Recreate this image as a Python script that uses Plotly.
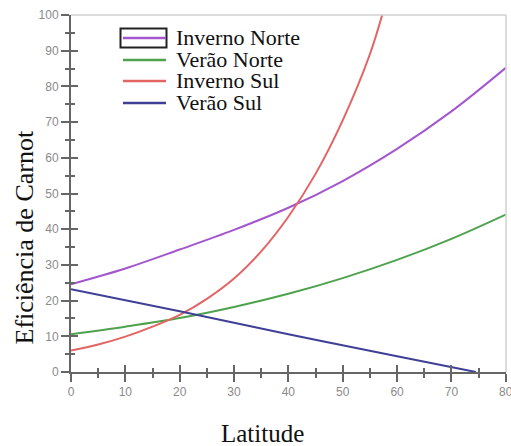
import plotly.graph_objects as go

# Latitude samples and efficiency values per series
lat_inv_norte = [0, 10, 20, 30, 40, 50, 60, 70, 80]
inv_norte = [24.6, 29.0, 34.3, 39.8, 46.0, 53.5, 62.5, 73.0, 85.2]

lat_ver_norte = [0, 10, 20, 30, 40, 50, 60, 70, 80]
ver_norte = [10.6, 12.7, 15.1, 18.2, 21.9, 26.3, 31.4, 37.3, 44.1]

lat_inv_sul = [0, 5, 10, 15, 20, 25, 30, 35, 40, 45, 50, 55, 58]
inv_sul = [6.0, 7.7, 9.9, 12.7, 16.0, 20.5, 26.2, 33.8, 43.5, 55.5, 70.5, 89.0, 104.0]

lat_ver_sul = [0, 20, 40, 60, 74.5]
ver_sul = [23.2, 17.0, 10.6, 4.4, 0.0]

series_names = ["Inverno Norte", "Verão Norte", "Inverno Sul", "Verão Sul"]
series_colors = ["#a456cf", "#4ea24e", "#e26464", "#3f3f98"]

x_ticks = [0, 10, 20, 30, 40, 50, 60, 70, 80]
y_ticks = [0, 10, 20, 30, 40, 50, 60, 70, 80, 90, 100]

W, H = 511, 446
L, R, T, B = 71, 5, 15, 74
PW, PH = W - L - R, H - T - B


def px(x):
    return (x - L) / PW


def py(y):
    return (H - B - y) / PH


fig = go.Figure()
data = [(lat_inv_norte, inv_norte), (lat_ver_norte, ver_norte),
        (lat_inv_sul, inv_sul), (lat_ver_sul, ver_sul)]
for (xs, ys), name, color in zip(data, series_names, series_colors):
    fig.add_trace(go.Scatter(x=xs, y=ys, name=name, mode="lines",
                             line=dict(color=color, width=2, shape="spline"),
                             showlegend=False))

# invisible trace so the overlay axes (inner tick halves) get drawn
fig.add_trace(go.Scatter(x=[0], y=[0], xaxis="x2", yaxis="y2", mode="lines",
                         showlegend=False, hoverinfo="skip"))

axis_col = "#666666"
tick_font = dict(family="Liberation Sans, Arial", size=12, color="#8a8a8a")

fig.update_layout(
    width=W, height=H,
    margin=dict(l=L, r=R, t=T, b=B),
    paper_bgcolor="white", plot_bgcolor="white",
    showlegend=False,
    xaxis=dict(range=[0, 80.05], tickvals=x_ticks, showgrid=False, zeroline=False,
               showline=True, linecolor=axis_col, linewidth=2,
               ticks="outside", ticklen=8, tickwidth=2, tickcolor=axis_col,
               minor=dict(dtick=5, ticks="outside", ticklen=4, tickwidth=2,
                          tickcolor=axis_col, showgrid=False),
               ticklabeloverflow="allow", automargin=False, tickfont=tick_font),
    yaxis=dict(range=[0, 100], tickvals=y_ticks, showgrid=False, zeroline=False,
               showline=True, linecolor=axis_col, linewidth=2,
               ticks="outside", ticklen=8, tickwidth=2, tickcolor=axis_col,
               minor=dict(dtick=5, ticks="outside", ticklen=4, tickwidth=2,
                          tickcolor=axis_col, showgrid=False),
               ticklabeloverflow="allow", automargin=False, tickfont=tick_font),
    xaxis2=dict(overlaying="x", anchor="y", range=[0, 80.05], tickvals=x_ticks,
                showgrid=False, zeroline=False, showline=False, automargin=False,
                showticklabels=False, ticks="inside", ticklen=7, tickwidth=2,
                tickcolor=axis_col,
                minor=dict(dtick=5, ticks="inside", ticklen=4, tickwidth=2,
                           tickcolor=axis_col, showgrid=False)),
    yaxis2=dict(overlaying="y", anchor="x", range=[0, 100], tickvals=y_ticks,
                showgrid=False, zeroline=False, showline=False, automargin=False,
                showticklabels=False, ticks="inside", ticklen=7, tickwidth=2,
                tickcolor=axis_col,
                minor=dict(dtick=5, ticks="inside", ticklen=4, tickwidth=2,
                           tickcolor=axis_col, showgrid=False)),
)

shapes = [
    # light frame on top and right
    dict(type="line", xref="paper", yref="paper", x0=0, x1=1, y0=1, y1=1,
         line=dict(color="#d0d0d0", width=1.5)),
    dict(type="line", xref="paper", yref="paper", x0=1, x1=1, y0=0, y1=1,
         line=dict(color="#d0d0d0", width=1.5)),
    # focus box around the first key symbol
    dict(type="rect", xref="paper", yref="paper",
         x0=px(120.5), x1=px(166.5), y0=py(47.5), y1=py(28.5),
         line=dict(color="#222222", width=2)),
]

annotations = []
key_rows = [38, 60, 81, 103]
for row, name, color in zip(key_rows, series_names, series_colors):
    shapes.append(dict(type="line", xref="paper", yref="paper",
                       x0=px(123), x1=px(166), y0=py(row), y1=py(row),
                       line=dict(color=color, width=2.5)))
    annotations.append(dict(xref="paper", yref="paper", x=px(174), y=py(row - 1),
                            xanchor="left", yanchor="middle", showarrow=False,
                            text=name,
                            font=dict(family="Liberation Serif", size=22,
                                      color="#111111")))

annotations.append(dict(xref="paper", yref="paper", x=px(262.5), y=py(433),
                        xanchor="center", yanchor="middle", showarrow=False,
                        text="Latitude",
                        font=dict(family="Liberation Serif", size=25,
                                  color="#111111")))
annotations.append(dict(xref="paper", yref="paper", x=px(24), y=py(237.5),
                        xanchor="center", yanchor="middle", showarrow=False,
                        textangle=-90, text="Eficiência de Carnot",
                        font=dict(family="Liberation Serif", size=26,
                                  color="#111111")))

fig.update_layout(shapes=shapes, annotations=annotations)
fig.write_html("out.html")
